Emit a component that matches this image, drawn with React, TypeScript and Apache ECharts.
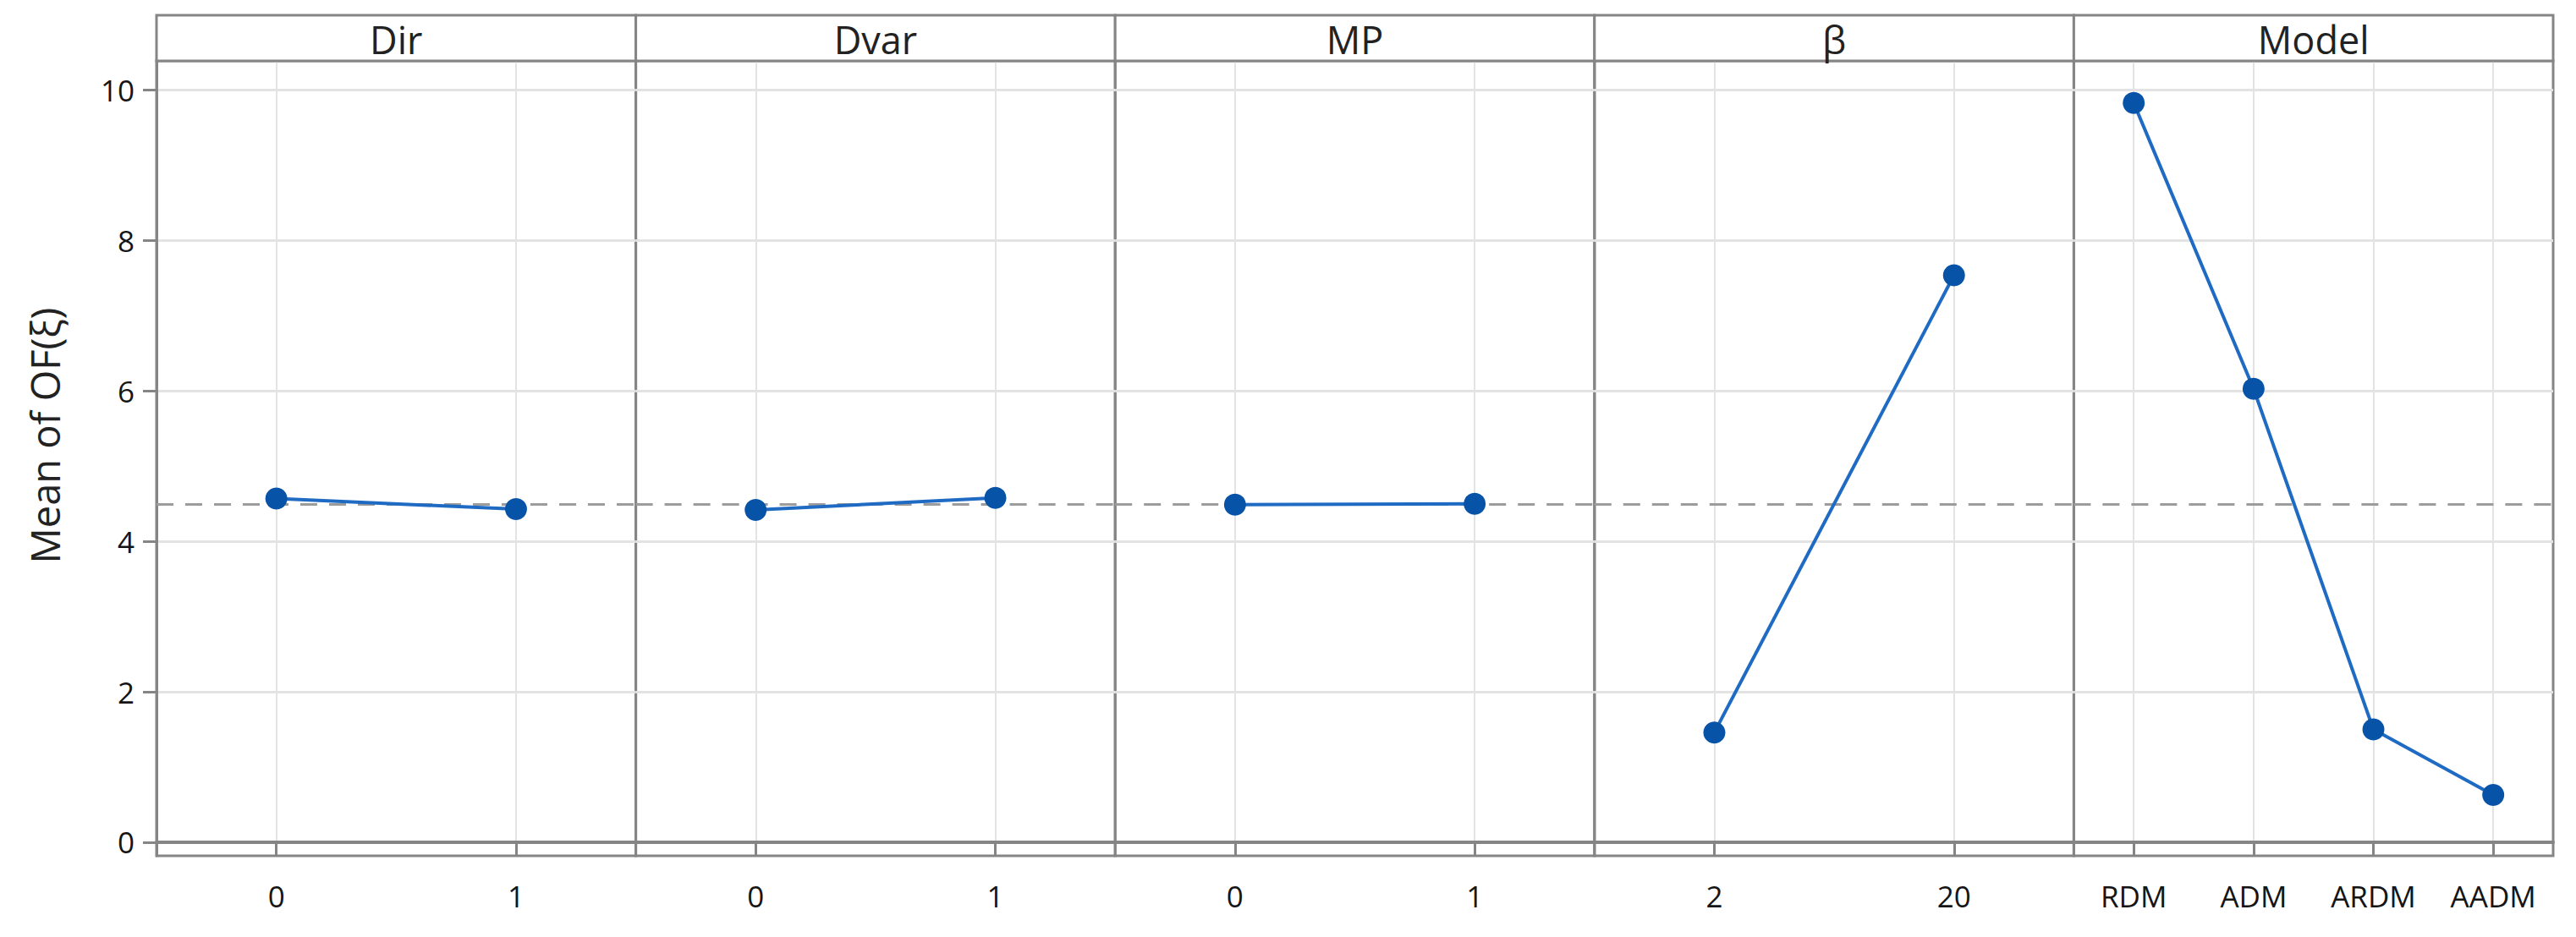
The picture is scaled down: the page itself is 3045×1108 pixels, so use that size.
import React, { useEffect, useRef } from "react";
import * as echarts from "echarts";

// ---- data ----
const panelTitles = ["Dir", "Dvar", "MP", "β", "Model"];
const dirLevels = ["0", "1"];
const dirMeans = [4.57, 4.43];
const dvarLevels = ["0", "1"];
const dvarMeans = [4.42, 4.58];
const mpLevels = ["0", "1"];
const mpMeans = [4.49, 4.5];
const betaLevels = ["2", "20"];
const betaMeans = [1.46, 7.54];
const modelLevels = ["RDM", "ADM", "ARDM", "AADM"];
const modelMeans = [9.83, 6.03, 1.5, 0.63];
const grandMean = 4.5;
const yTickValues = [0, 2, 4, 6, 8, 10];
const yMin = -0.18;
const yMax = 10.39;
const yTitle = "Mean of OF(ξ)";

const panelLevels = [dirLevels, dvarLevels, mpLevels, betaLevels, modelLevels];
const panelMeans = [dirMeans, dvarMeans, mpMeans, betaMeans, modelMeans];

// ---- layout / style ----
const W = 3045;
const H = 1108;
const LEFT = 185;
const RIGHT = 3018;
const TOP = 72;
const HEADER_TOP = 18;
const BOTTOM = 1012;
const FONT = "'Segoe UI', 'Open Sans', 'Liberation Sans', sans-serif";
const FRAME = "#858585";
const GRID = "#e3e3e3";
const LINE_COLOR = "#1f6bc4";
const MARK_COLOR = "#0653a8";

export default function App() {
  const ref = useRef<HTMLDivElement>(null);

  useEffect(() => {
    if (!ref.current) return;
    const chart = echarts.init(ref.current, null, { renderer: "svg" });
    const n = panelTitles.length;
    const pw = (RIGHT - LEFT) / n;

    const grids: any[] = [];
    const xAxes: any[] = [];
    const yAxes: any[] = [];
    const series: any[] = [];
    const graphics: any[] = [];

    for (let i = 0; i < n; i++) {
      const left = LEFT + i * pw;
      grids.push({
        left,
        width: pw,
        top: TOP,
        bottom: H - BOTTOM,
        show: true,
        borderColor: FRAME,
        borderWidth: 3,
        backgroundColor: "transparent",
        containLabel: false,
      });
      xAxes.push({
        type: "category",
        gridIndex: i,
        data: panelLevels[i],
        boundaryGap: true,
        axisLine: { show: true, lineStyle: { color: FRAME, width: 4 } },
        axisTick: {
          show: true,
          alignWithLabel: true,
          length: 17,
          lineStyle: { color: FRAME, width: 3 },
        },
        splitLine: {
          show: true,
          alignWithLabel: true,
          lineStyle: { color: GRID, width: 2 },
        },
        axisLabel: {
          color: "#151515",
          fontFamily: FONT,
          fontSize: 35,
          margin: 30,
        },
      });
      yAxes.push({
        type: "value",
        gridIndex: i,
        min: yMin,
        max: yMax,
        axisLine: { show: i === 0, lineStyle: { color: FRAME, width: 3 } },
        axisTick: {
          show: i === 0,
          length: 16,
          customValues: yTickValues,
          lineStyle: { color: FRAME, width: 3 },
        },
        splitLine: {
          show: true,
          customValues: yTickValues,
          lineStyle: { color: GRID, width: 3 },
        },
        axisLabel: {
          show: i === 0,
          customValues: yTickValues,
          formatter: (v: number) =>
            yTickValues.indexOf(Math.round(v * 1000) / 1000) >= 0 ? String(v) : "",
          color: "#151515",
          fontFamily: FONT,
          fontSize: 35,
          margin: 26,
        },
      });
      series.push({
        type: "line",
        xAxisIndex: i,
        yAxisIndex: i,
        data: panelMeans[i],
        symbol: "circle",
        symbolSize: 26,
        lineStyle: { color: LINE_COLOR, width: 4 },
        itemStyle: { color: MARK_COLOR },
        z: 5,
        markLine: {
          silent: true,
          symbol: ["none", "none"],
          label: { show: false },
          lineStyle: { color: "#9c9c9c", type: [20, 14], width: 3 },
          data: [{ yAxis: grandMean }],
          z: 3,
        },
      });
      graphics.push({
        type: "rect",
        shape: { x: left, y: HEADER_TOP, width: pw, height: TOP - HEADER_TOP },
        style: { fill: "#ffffff", stroke: FRAME, lineWidth: 3 },
        z: 10,
      });
      graphics.push({
        type: "text",
        x: left + pw / 2,
        y: (HEADER_TOP + TOP) / 2 + 1,
        style: {
          text: panelTitles[i],
          fontFamily: FONT,
          fontSize: 45,
          fill: "#222222",
          align: "center",
          verticalAlign: "middle",
        },
        z: 11,
      });
    }

    graphics.push({
      type: "text",
      x: 53,
      y: 515,
      rotation: Math.PI / 2,
      style: {
        text: yTitle,
        fontFamily: FONT,
        fontSize: 47,
        fill: "#222222",
        align: "center",
        verticalAlign: "middle",
      },
      z: 11,
    });

    chart.setOption({
      animation: false,
      backgroundColor: "#ffffff",
      grid: grids,
      xAxis: xAxes,
      yAxis: yAxes,
      series,
      graphic: graphics,
    });

    return () => chart.dispose();
  }, []);

  return (
    <div
      ref={ref}
      style={{ position: "fixed", left: 0, top: 0, width: W, height: H, background: "#fff" }}
    />
  );
}
